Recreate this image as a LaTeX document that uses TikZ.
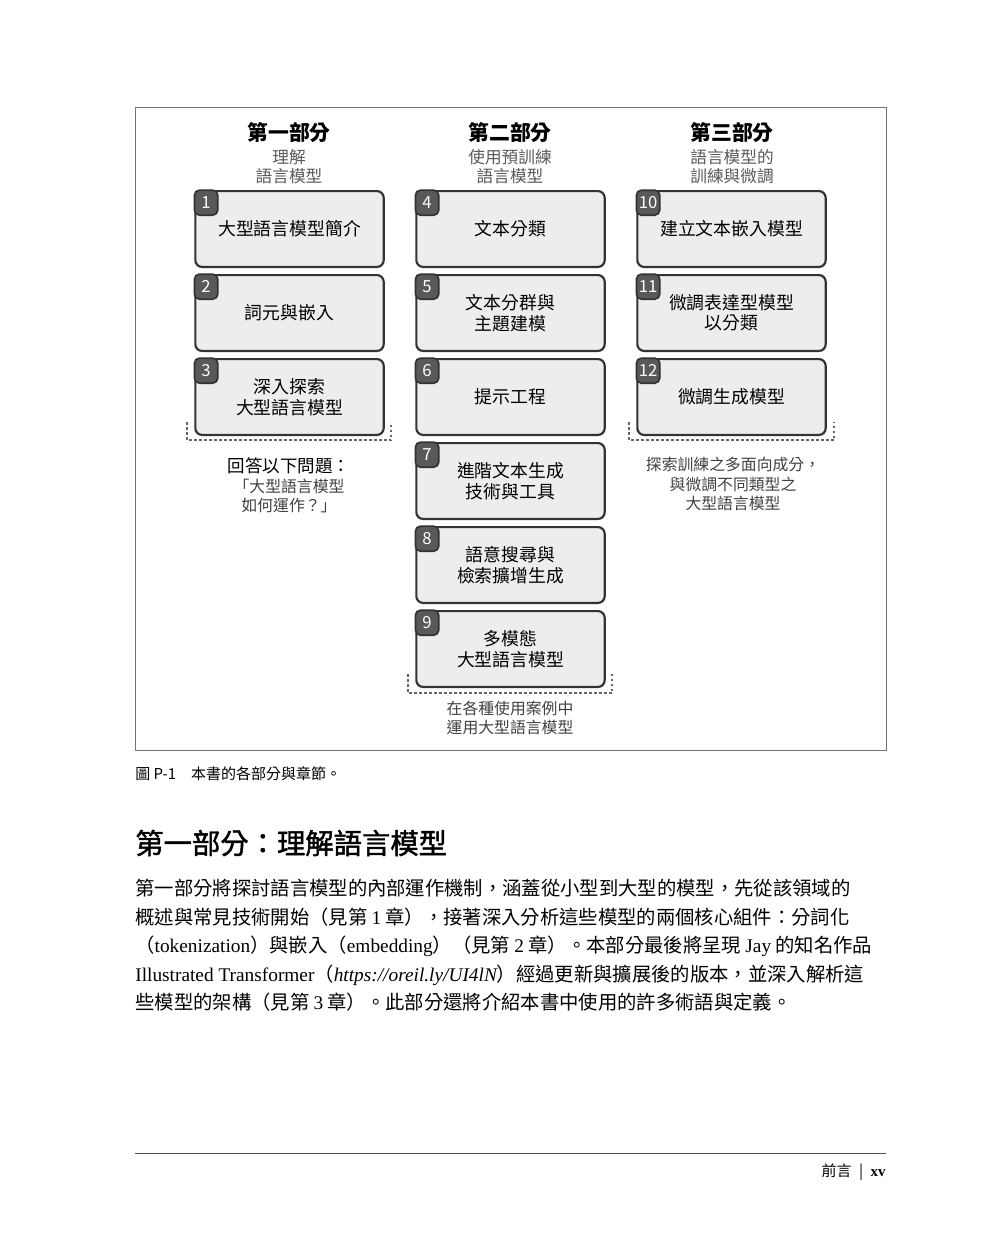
\documentclass[tikz,border=0pt]{standalone}
\usepackage{fontspec}
\setmainfont{Liberation Serif}
\newfontfamily\cjk{Noto Sans CJK TC}
\newfontfamily\cjkb{Noto Sans CJK TC}[FakeBold=1.5]
\begin{document}
\begin{tikzpicture}[x=0.6pt,y=-0.6pt,
  chap/.style={draw=black!80,line width=1.3pt,rounded corners=4pt,fill=black!7,minimum width=113pt,minimum height=45.5pt,align=center,font=\cjk\fontsize{10.7pt}{12.3pt}\selectfont,inner sep=0pt},
  tab/.style={draw=black!80,line width=1pt,rounded corners=3pt,fill=black!65,text=white,minimum width=14pt,minimum height=15pt,inner sep=0pt,font=\cjk\fontsize{10pt}{12pt}\selectfont,anchor=north west},
  head/.style={font=\cjk\bfseries\fontsize{12.5pt}{14pt}\selectfont},
  sub/.style={font=\cjk\fontsize{10pt}{11.5pt}\selectfont,text=black!65,align=center},
  brk/.style={draw=black!60,line width=1.2pt,dash pattern=on 1.5pt off 1.5pt},
  note/.style={font=\cjk\fontsize{9.5pt}{11.6pt}\selectfont,align=center,text=black!75},
  para/.style={font=\cjk\fontsize{11.6pt}{13pt}\selectfont,anchor=west,inner sep=0pt}]
\useasboundingbox (0,0) rectangle (1000,1243);
\draw[black!55,line width=0.6pt] (135,108) rectangle (886,750);
% headers
\node[head] (h1) at (289,133) {第一部分};
\node[sub] (s1) at (289,167) {理解\\語言模型};
\node[head] (h2) at (510,133) {第二部分};
\node[sub] (s2) at (510,167) {使用預訓練\\語言模型};
\node[head] (h3) at (732,133) {第三部分};
\node[sub] (s3) at (732,167) {語言模型的\\訓練與微調};
% boxes
\foreach \n/\x/\y/\t in {1/289.5/229/大型語言模型簡介, 2/289.5/313/詞元與嵌入, 3/289.5/397/深入探索\\大型語言模型,
  4/510.5/229/文本分類, 5/510.5/313/文本分群與\\主題建模, 6/510.5/397/提示工程, 7/510.5/481/進階文本生成\\技術與工具,
  8/510.5/565/語意搜尋與\\檢索擴增生成, 9/510.5/649/多模態\\大型語言模型,
  10/731.5/229/建立文本嵌入模型, 11/731.5/313/微調表達型模型\\以分類, 12/731.5/397/微調生成模型}{
  \node[chap] (c\n) at (\x,\y) {\t};
  \node[tab] (t\n) at ([xshift=-0.4pt,yshift=0.4pt]c\n.north west) {\n};
}
% brackets
\coordinate (b1a) at (187,422); \coordinate (b1b) at (391,422);
\draw[brk] (b1a) -- (187,440) -- (391,440) -- (b1b);
\coordinate (b2a) at (408,674); \coordinate (b2b) at (612,674);
\draw[brk] (b2a) -- (408,693) -- (612,693) -- (b2b);
\coordinate (b3a) at (629,422); \coordinate (b3b) at (834,422);
\draw[brk] (b3a) -- (629,440) -- (834,440) -- (b3b);
% notes
\node[font=\cjk\fontsize{10.5pt}{12pt}\selectfont] (n1a) at (289,466) {回答以下問題：};
\node[note] (n1) at (289,496) {「大型語言模型\\如何運作？」};
\node[note] (n2) at (510,718) {在各種使用案例中\\運用大型語言模型};
\node[note] (n3) at (733,484) {探索訓練之多面向成分，\\與微調不同類型之\\大型語言模型};
% caption
\node[font=\cjk\fontsize{9pt}{11pt}\selectfont,anchor=west,inner sep=0pt] (cap) at (135,774) {圖 P-1\hspace{1em}本書的各部分與章節。};
% heading
\node[font=\cjkb\fontsize{17pt}{19pt}\selectfont,anchor=west,inner sep=0pt] (hd) at (135,843) {第一部分：理解語言模型};
% paragraph
\node[para] (p1) at (135,888) {第一部分將探討語言模型的內部運作機制，涵蓋從小型到大型的模型，先從該領域的};
\node[para] (p2) at (135,917) {概述與常見技術開始（見第 {\rmfamily 1} 章），接著深入分析這些模型的兩個核心組件：分詞化};
\node[para] (p3) at (135,946) {（{\rmfamily tokenization}）與嵌入（{\rmfamily embedding}）（見第 {\rmfamily 2} 章）。本部分最後將呈現 {\rmfamily Jay} 的知名作品};
\node[para] (p4) at (135,975) {{\rmfamily Illustrated Transformer}（{\rmfamily\itshape https://oreil.ly/UI4lN}）經過更新與擴展後的版本，並深入解析這};
\node[para] (p5) at (135,1002) {些模型的架構（見第 {\rmfamily 3} 章）。此部分還將介紹本書中使用的許多術語與定義。};
% footer
\coordinate (fl) at (135,1153); \coordinate (fr) at (886,1153);
\draw[black!70,line width=0.6pt] (fl) -- (fr);
\node[font=\cjk\fontsize{9pt}{11pt}\selectfont,anchor=east,inner sep=0pt] (ft) at (886,1172) {前言\hspace{0.5em}|\hspace{0.5em}{\rmfamily\bfseries xv}};
\end{tikzpicture}
\end{document}
